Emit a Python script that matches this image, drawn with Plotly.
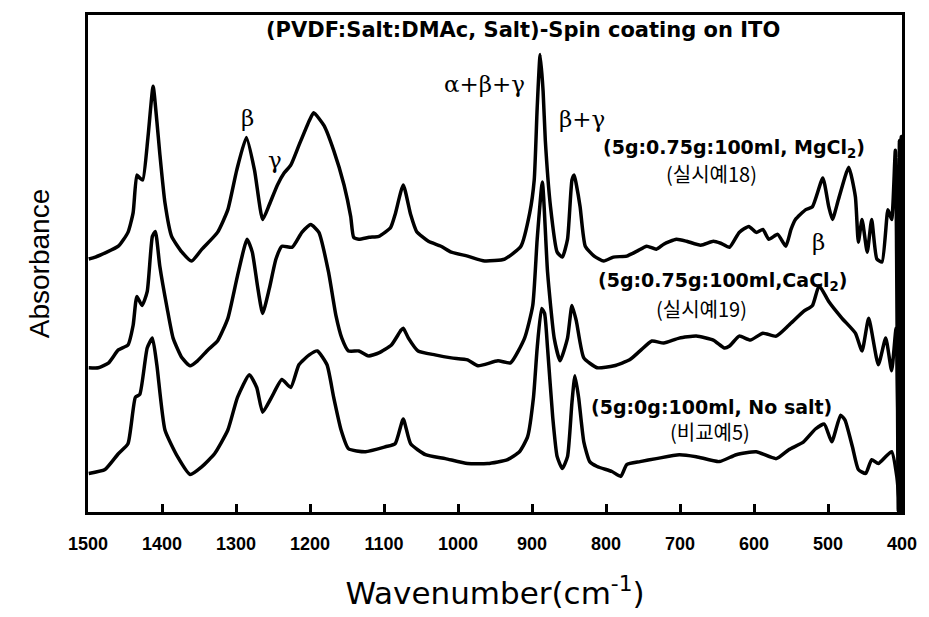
import plotly.graph_objects as go

# Wavenumber (cm-1) and absorbance (arbitrary units, offset stacked)
wn_mgcl2 = [1499, 1490, 1459, 1446, 1439, 1434, 1430, 1426, 1419, 1412, 1407, 1403, 1396, 1387, 1373, 1360,
            1346, 1325, 1311, 1299, 1286, 1275, 1264, 1255, 1244, 1235, 1226, 1215, 1201, 1195, 1181, 1168,
            1154, 1145, 1141, 1134, 1120, 1107, 1091, 1085, 1074, 1064, 1056, 1040, 1023, 1009, 987, 964,
            937, 915, 903, 897, 893, 889, 885, 882, 875, 866, 859, 852, 846, 843, 840, 835, 828, 816, 803,
            790, 772, 758, 745, 732, 722, 705, 691, 672, 655, 645, 633, 620, 607, 597, 588, 580, 568, 557,
            550, 544, 530, 521, 507, 499, 494, 486, 472, 463, 459, 454, 447, 441, 434, 427, 419, 414, 409,
            405, 403.5, 402, 401, 400.3]
ab_mgcl2 = [256, 258, 269, 283, 303, 341, 338, 336, 379, 431, 396, 363, 313, 279, 263, 254,
            266, 283, 306, 346, 379, 346, 296, 311, 331, 343, 351, 371, 396, 404, 391, 366,
            331, 299, 278, 276, 278, 279, 288, 301, 331, 301, 284, 274, 269, 263, 259, 254,
            256, 269, 303, 336, 409, 463, 426, 376, 309, 263, 258, 276, 336, 341, 331, 309, 269, 259, 254,
            258, 259, 264, 269, 266, 271, 276, 274, 270, 274, 272, 268, 283, 289, 283, 286, 276, 281, 269,
            286, 296, 306, 309, 338, 309, 296, 316, 349, 319, 273, 296, 263, 296, 256, 253, 306, 296, 366,
            1, 376, 1, 380, 1]

wn_cacl2 = [1499, 1486, 1472, 1459, 1446, 1439, 1434, 1427, 1420, 1413, 1409, 1403, 1393, 1385, 1373, 1362,
            1352, 1338, 1325, 1311, 1298, 1285, 1278, 1271, 1264, 1255, 1246, 1238, 1224, 1211, 1199, 1188,
            1175, 1165, 1157, 1148, 1134, 1121, 1107, 1090, 1077, 1074, 1067, 1054, 1031, 1009, 987, 973,
            946, 929, 910, 899, 893, 886, 879, 870, 862, 852, 846, 840, 830, 812, 789, 768, 754, 738, 722,
            701, 678, 655, 640, 633, 620, 605, 588, 570, 553, 533, 521, 512, 499, 481, 463, 454, 445, 432,
            422, 414, 408, 404, 402.5, 401.5]
ab_cacl2 = [146, 146, 151, 164, 169, 189, 218, 209, 223, 279, 284, 249, 206, 176, 156, 148,
            153, 164, 173, 196, 239, 276, 263, 229, 201, 226, 256, 269, 268, 283, 291, 283,
            243, 199, 176, 163, 163, 158, 161, 169, 184, 186, 176, 163, 159, 156, 154, 148,
            153, 151, 176, 209, 276, 334, 243, 176, 153, 176, 209, 193, 156, 146, 148, 154, 163, 173, 171,
            176, 178, 174, 166, 168, 178, 174, 181, 178, 189, 203, 209, 229, 213, 196, 181, 163, 196, 149,
            176, 143, 186, 1, 250, 1]

wn_nosalt = [1499, 1477, 1459, 1446, 1436, 1430, 1420, 1413, 1407, 1396, 1379, 1362, 1346, 1329, 1311, 1298,
             1282, 1272, 1264, 1252, 1238, 1226, 1215, 1201, 1190, 1177, 1168, 1158, 1148, 1125, 1098, 1085,
             1074, 1064, 1044, 1017, 987, 960, 933, 917, 906, 898, 893, 887, 883, 879, 872, 866, 859, 852,
             846, 842, 837, 830, 822, 812, 792, 780, 772, 754, 732, 701, 678, 647, 624, 597, 570, 553, 533,
             517, 505, 495, 483, 477, 467, 459, 449, 441, 432, 422, 414, 407, 403]
ab_nosalt = [39, 43, 59, 69, 116, 119, 166, 176, 149, 83, 56, 38, 46, 59, 83, 116,
             139, 126, 101, 116, 134, 126, 149, 159, 163, 149, 116, 83, 64, 61, 66, 69,
             94, 69, 58, 54, 49, 49, 53, 61, 76, 116, 166, 206, 201, 166, 96, 56, 44, 56,
             111, 138, 116, 71, 51, 46, 41, 36, 48, 51, 54, 58, 56, 51, 58, 61, 54, 63, 71,
             84, 89, 71, 98, 93, 66, 43, 39, 53, 49, 56, 61, 36, 1]

x_ticks = [1500, 1400, 1300, 1200, 1100, 1000, 900, 800, 700, 600, 500, 400]

series = [(wn_mgcl2, ab_mgcl2), (wn_cacl2, ab_cacl2), (wn_nosalt, ab_nosalt)]

fig = go.Figure()
for wn, ab in series:
    fig.add_trace(go.Scatter(x=wn, y=ab, mode="lines",
                             line=dict(color="black", width=3.5, shape="spline", smoothing=0.5),
                             showlegend=False, hoverinfo="skip"))

label_font = dict(family="DejaVu Sans", size=19, color="black")
greek_font = dict(family="DejaVu Serif", size=23, color="black")
kr_font = dict(family="Noto Sans CJK KR", size=20, color="black")

annotations = [
    dict(x=1285, y=399, text="β", font=greek_font),
    dict(x=1247, y=356, text="γ", font=greek_font),
    dict(x=964, y=433, text="α+β+γ", font=greek_font),
    dict(x=832, y=398, text="β+γ", font=greek_font),
    dict(x=513, y=273, text="β", font=greek_font),
    dict(x=627, y=368, text="<b>(5g:0.75g:100ml, MgCl<sub>2</sub>)</b>", font=label_font),
    dict(x=658, y=343, text="(실시예18)", font=kr_font),
    dict(x=642, y=233, text="<b>(5g:0.75g:100ml,CaCl<sub>2</sub>)</b>", font=label_font),
    dict(x=671, y=206, text="(실시예19)", font=kr_font),
    dict(x=658, y=106, text="<b>(5g:0g:100ml, No salt)</b>", font=label_font),
    dict(x=659, y=81, text="(비교예5)", font=kr_font),
]
for a in annotations:
    a.update(xref="x", yref="y", showarrow=False, xanchor="center", yanchor="middle")

annotations.append(dict(x=0.535, y=0.970, xref="paper", yref="paper", showarrow=False,
                        text="<b>(PVDF:Salt:DMAc, Salt)-Spin coating on ITO</b>",
                        font=dict(family="DejaVu Sans", size=21, color="black"),
                        xanchor="center", yanchor="middle"))

fig.update_layout(
    width=929, height=617,
    margin=dict(l=88, r=22, t=13, b=101),
    paper_bgcolor="white", plot_bgcolor="white",
    annotations=annotations,
    xaxis=dict(range=[1500, 400], tickvals=x_ticks, ticktext=[str(t) for t in x_ticks],
               ticks="inside", ticklen=8, tickwidth=2.5, tickcolor="black",
               ticklabelstandoff=13,
               showline=True, linewidth=3, linecolor="black", mirror=True,
               showgrid=False, zeroline=False,
               tickfont=dict(family="Liberation Sans", size=18, color="black", weight="bold"),
               title=dict(text="Wavenumber(cm<sup>-1</sup>)", standoff=30,
                          font=dict(family="DejaVu Sans", size=31, color="black"))),
    yaxis=dict(range=[0, 503], showticklabels=False, ticks="",
               showline=True, linewidth=3, linecolor="black", mirror=True,
               showgrid=False, zeroline=False,
               title=dict(text="Absorbance", standoff=28,
                          font=dict(family="Liberation Sans", size=28, color="black"))),
)

fig.write_html("out.html")
